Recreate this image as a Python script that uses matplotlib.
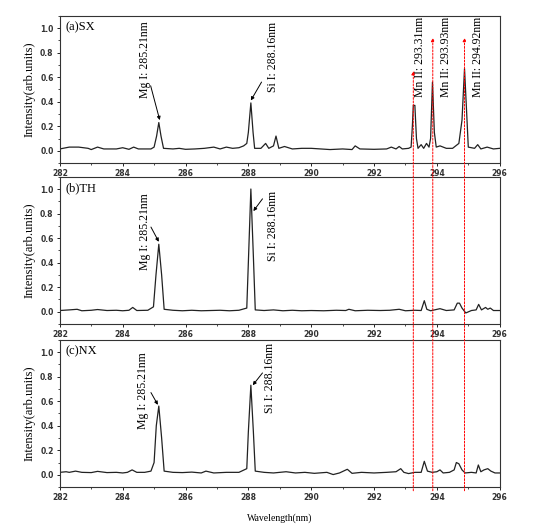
import numpy as np
import matplotlib
matplotlib.use("Agg")
import matplotlib.pyplot as plt
from matplotlib.patches import ConnectionPatch

# spectra as (wavelength nm, intensity) points
sx_x = [282.0, 282.3, 282.6, 282.9, 283.0, 283.2, 283.4, 283.8, 284.0, 284.2, 284.35, 284.5,
        284.9, 285.0, 285.08, 285.15, 285.22, 285.3, 285.6, 285.8, 286.0, 286.3, 286.6, 286.9,
        287.1, 287.3, 287.5, 287.7, 287.85, 287.95, 288.0, 288.08, 288.15, 288.2, 288.4, 288.55,
        288.65, 288.8, 288.88, 288.97, 289.15, 289.4, 289.7, 290.0, 290.3, 290.6, 291.0, 291.3,
        291.4, 291.55, 292.0, 292.4, 292.55, 292.7, 292.8, 292.9, 293.1, 293.18, 293.22, 293.25,
        293.3, 293.35, 293.4, 293.5, 293.58, 293.67, 293.75, 293.8, 293.86, 293.92, 293.98, 294.1,
        294.3, 294.5, 294.7, 294.8, 294.88, 294.95, 295.0, 295.2, 295.3, 295.4, 295.6, 295.8, 296.0]
sx_y = [0.015, 0.03, 0.03, 0.02, 0.01, 0.03, 0.015, 0.015, 0.025, 0.012, 0.03, 0.015,
        0.015, 0.03, 0.12, 0.23, 0.12, 0.02, 0.015, 0.02, 0.012, 0.015, 0.02, 0.03,
        0.015, 0.03, 0.02, 0.025, 0.04, 0.06, 0.15, 0.39, 0.15, 0.02, 0.02, 0.06,
        0.02, 0.04, 0.12, 0.02, 0.035, 0.015, 0.02, 0.02, 0.015, 0.01, 0.015, 0.01,
        0.04, 0.015, 0.012, 0.015, 0.03, 0.015, 0.035, 0.015, 0.02, 0.03, 0.2, 0.37,
        0.37, 0.1, 0.02, 0.05, 0.02, 0.06, 0.03, 0.1, 0.56, 0.15, 0.03, 0.04,
        0.02, 0.02, 0.06, 0.25, 0.67, 0.3, 0.03, 0.02, 0.05, 0.015, 0.03, 0.015, 0.02]

th_x = [282.0, 282.3, 282.55, 282.7, 283.0, 283.2, 283.5, 283.8, 284.0, 284.2, 284.32, 284.45,
        284.8, 284.98, 285.06, 285.15, 285.24, 285.32, 285.6, 285.9, 286.2, 286.5, 286.8, 287.1,
        287.4, 287.7, 287.95, 288.0, 288.08, 288.16, 288.22, 288.5, 288.8, 289.1, 289.4, 289.7,
        290.0, 290.4, 290.8, 291.1, 291.2, 291.4, 291.8, 292.2, 292.5, 292.8, 293.0, 293.3,
        293.5, 293.6, 293.68, 293.8, 294.1, 294.3, 294.55, 294.65, 294.72, 294.8, 294.92, 295.1,
        295.25, 295.33, 295.42, 295.55, 295.62, 295.7, 295.8, 296.0]
th_y = [0.01, 0.015, 0.02, 0.008, 0.012, 0.018, 0.01, 0.012, 0.008, 0.012, 0.035, 0.01,
        0.012, 0.04, 0.3, 0.55, 0.3, 0.02, 0.012, 0.008, 0.012, 0.008, 0.01, 0.012,
        0.008, 0.012, 0.03, 0.4, 1.0, 0.45, 0.015, 0.01, 0.015, 0.008, 0.012, 0.008,
        0.01, 0.008, 0.012, 0.01, 0.02, 0.008, 0.012, 0.01, 0.012, 0.02, 0.008, 0.012,
        0.01, 0.09, 0.02, 0.008, 0.025, 0.01, 0.015, 0.07, 0.07, 0.03, -0.01, 0.01,
        0.015, 0.06, 0.015, 0.035, 0.02, 0.03, 0.01, 0.01]

nx_x = [282.0, 282.2, 282.3, 282.5, 282.7, 283.0, 283.2, 283.5, 283.8, 284.0, 284.15, 284.3,
        284.45, 284.7, 284.9, 285.0, 285.07, 285.15, 285.24, 285.32, 285.6, 285.9, 286.2, 286.5,
        286.65, 286.9, 287.3, 287.7, 287.95, 288.0, 288.08, 288.16, 288.22, 288.5, 288.8, 289.2,
        289.5, 289.8, 290.1, 290.5, 290.7, 290.9, 291.15, 291.3, 291.6, 292.0, 292.4, 292.7,
        292.85, 292.95, 293.1, 293.3, 293.5, 293.6, 293.7, 293.85, 294.0, 294.1, 294.2, 294.4,
        294.55, 294.62, 294.7, 294.8, 294.9, 295.1, 295.25, 295.32, 295.4, 295.5, 295.62, 295.72,
        295.85, 296.0]
nx_y = [0.02, 0.025, 0.02, 0.03, 0.02, 0.018, 0.028, 0.018, 0.02, 0.015, 0.02, 0.04,
        0.02, 0.02, 0.03, 0.1, 0.4, 0.56, 0.3, 0.03, 0.02, 0.018, 0.022, 0.015,
        0.03, 0.015, 0.02, 0.02, 0.05, 0.35, 0.73, 0.35, 0.03, 0.02, 0.015, 0.025,
        0.015, 0.02, 0.012, 0.02, 0.002, 0.015, 0.045, 0.012, 0.02, 0.015, 0.02, 0.025,
        0.05, 0.02, 0.01, 0.02, 0.02, 0.11, 0.03, 0.02, 0.025, 0.04, 0.015, 0.02,
        0.04, 0.1, 0.09, 0.04, 0.015, 0.02, 0.015, 0.08, 0.025, 0.04, 0.05, 0.03,
        0.015, 0.015]

panel_names = ["(a)SX", "(b)TH", "(c)NX"]
mn_pos = [293.25, 293.87, 294.88]
mn_tips = [0.65, 0.92, 0.92]
mn_labels = ["Mn II: 293.31nm", "Mn II: 293.93nm", "Mn II: 294.92nm"]
mn_text_x = [293.46, 294.28, 295.3]

# (text x, text bottom y, arrow start, arrow tip) per panel for Mg and Si
mg_ann = [(284.7, 0.43, (284.89, 0.53), (285.18, 0.25)),
          (284.7, 0.34, (284.9, 0.69), (285.15, 0.57)),
          (284.66, 0.37, (284.9, 0.67), (285.12, 0.57))]
si_ann = [(288.8, 0.48, (288.42, 0.56), (288.08, 0.41)),
          (288.77, 0.41, (288.45, 0.92), (288.16, 0.82)),
          (288.68, 0.50, (288.45, 0.83), (288.14, 0.73))]

serif = "Liberation Serif"
fig = plt.figure(figsize=(5.54, 5.26), dpi=100)
bottoms = [0.690, 0.384, 0.074]
axes = []
for i, (xs, ys) in enumerate([(sx_x, sx_y), (th_x, th_y), (nx_x, nx_y)]):
    ax = fig.add_axes([0.108, bottoms[i], 0.794, 0.280])
    ax.plot(xs, ys, color="#222222", lw=0.9)
    ax.set_xlim(282, 296)
    ax.set_ylim(-0.1, 1.1)
    ax.set_xticks(np.arange(282, 297, 2))
    ax.set_xticks(np.arange(282, 297, 1), minor=True)
    ax.set_yticks(np.arange(0, 1.01, 0.2))
    ax.set_yticks(np.arange(-0.1, 1.1, 0.1), minor=True)
    ax.set_yticklabels(["%.1f" % v for v in np.arange(0, 1.01, 0.2)])
    ax.tick_params(labelsize=5.5, length=2.5, width=0.6, pad=2)
    ax.tick_params(which="minor", length=1.5, width=0.5)
    for lab in ax.get_xticklabels() + ax.get_yticklabels():
        lab.set_fontweight("bold")
        lab.set_color("#333333")
    for s in ax.spines.values():
        s.set_linewidth(0.8)
        s.set_color("#333333")
    ax.set_ylabel("Intensity(arb.units)", family=serif, fontsize=9, labelpad=3)
    ax.text(0.012, 0.96, panel_names[i], transform=ax.transAxes, family=serif,
            fontsize=9, va="top", ha="left")
    tx, ty, a0, a1 = mg_ann[i]
    ax.text(tx, ty, "Mg I: 285.21nm", rotation=90, family=serif, fontsize=8.5,
            ha="center", va="bottom")
    ax.annotate("", xy=a1, xytext=a0,
                arrowprops=dict(arrowstyle="-|>", color="black", lw=0.7,
                                mutation_scale=5, shrinkA=0, shrinkB=0))
    tx, ty, a0, a1 = si_ann[i]
    ax.text(tx, ty, "Si I: 288.16nm", rotation=90, family=serif, fontsize=8.5,
            ha="center", va="bottom")
    ax.annotate("", xy=a1, xytext=a0,
                arrowprops=dict(arrowstyle="-|>", color="black", lw=0.7,
                                mutation_scale=5, shrinkA=0, shrinkB=0))
    axes.append(ax)

axes[2].set_xlabel("Wavelength(nm)", family=serif, fontsize=7, labelpad=8)

for x, tip, lab, tx in zip(mn_pos, mn_tips, mn_labels, mn_text_x):
    axes[0].text(tx, 0.44, lab, rotation=90, family=serif, fontsize=8.5,
                 ha="center", va="bottom")
    con = ConnectionPatch(xyA=(x, -0.13), coordsA=axes[2].transData,
                          xyB=(x, tip), coordsB=axes[0].transData,
                          arrowstyle="-|>", color="red", lw=0.7, ls=(0, (2, 1.5)),
                          mutation_scale=5, shrinkA=0, shrinkB=0)
    fig.add_artist(con)

fig.savefig("out.png", dpi=100)
